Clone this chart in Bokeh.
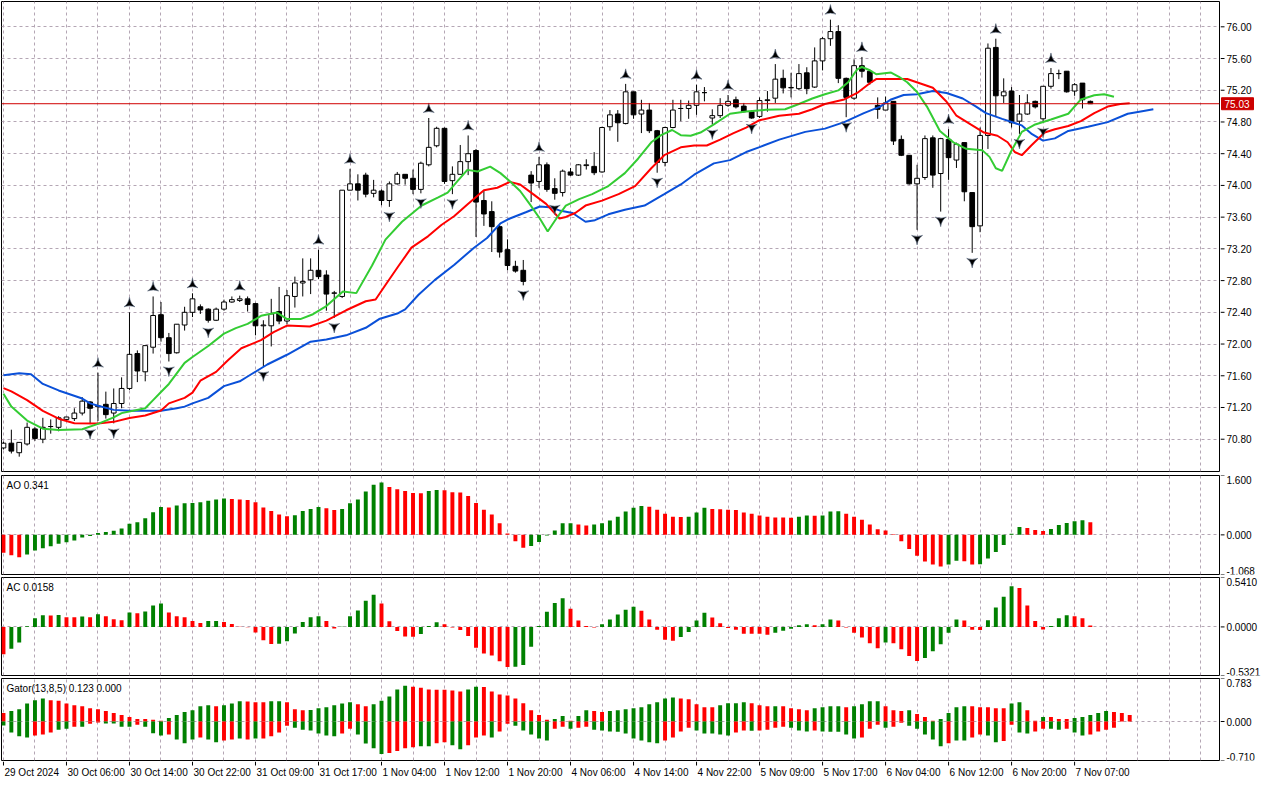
from bokeh.plotting import figure
from bokeh.layouts import column, row
from bokeh.models import Range1d, FixedTicker, Span, Label
from bokeh.core.properties import value
from bokeh.embed import file_html
from bokeh.resources import INLINE

FONT = "Liberation Sans"

# ---------------- data (hourly bars, index 0..138) ----------------
open_ = [70.69,70.75,70.63,70.74,70.93,70.80,70.96,70.95,71.05,71.06,
         71.13,71.27,71.21,71.24,71.13,71.25,71.44,71.88,71.65,71.96,
         72.37,72.08,71.89,72.24,72.40,72.47,72.44,72.30,72.44,72.53,
         72.55,72.57,72.51,72.23,72.23,72.41,72.29,72.60,72.77,72.81,
         72.93,72.87,72.64,72.60,73.94,74.02,74.13,73.90,73.93,73.81,
         74.02,74.14,74.09,73.95,74.26,74.50,74.72,74.06,74.14,74.30,
         74.44,73.81,73.67,73.48,73.19,72.98,72.93,74.13,74.05,74.26,
         73.96,73.91,74.17,74.13,74.25,74.24,74.17,74.74,74.90,74.78,
         75.18,74.90,74.95,74.69,74.29,74.73,74.97,74.97,75.01,75.17,
         74.85,74.88,75.01,75.08,75.00,74.93,74.87,75.07,75.10,75.35,
         75.23,75.22,75.42,75.24,75.57,75.85,75.94,75.35,75.10,75.51,
         75.44,75.01,74.95,75.06,74.58,74.38,74.02,74.10,74.60,74.15,
         74.58,74.32,74.54,73.91,73.49,74.63,75.74,75.13,75.19,74.81,
         74.90,75.06,74.84,75.25,75.41,75.44,75.19,75.29,75.06]
high = [70.77,70.92,70.76,71.01,70.95,71.07,71.05,71.09,71.08,71.19,
        71.33,71.28,71.64,71.40,71.44,71.58,72.40,71.92,71.98,72.60,
        72.53,72.14,72.25,72.47,72.64,72.50,72.45,72.46,72.56,72.60,
        72.61,72.60,72.52,72.30,72.57,72.72,72.68,72.85,73.08,73.08,
        73.19,72.93,72.67,73.94,74.21,74.14,74.16,74.07,73.95,74.05,
        74.17,74.14,74.20,74.30,74.85,74.74,74.73,74.24,74.51,74.63,
        74.46,73.93,73.80,73.52,73.32,73.05,73.06,74.18,74.36,74.29,
        74.09,74.20,74.22,74.27,74.33,74.42,74.74,74.95,74.95,75.28,
        75.18,75.08,75.04,74.70,74.74,75.08,75.08,75.07,75.27,75.24,
        74.96,75.10,75.14,75.12,75.04,74.95,75.11,75.19,75.53,75.46,
        75.42,75.53,75.49,75.74,75.87,76.09,76.02,75.36,75.59,75.62,
        75.46,75.11,75.12,75.06,74.63,74.38,74.26,74.63,74.63,74.60,
        74.71,74.54,74.54,73.91,74.73,75.79,75.85,75.35,75.24,75.14,
        75.15,75.07,75.25,75.48,75.46,75.44,75.29,75.29,75.07]
low = [70.67,70.62,70.58,70.72,70.78,70.75,70.87,70.90,71.04,71.03,
       71.10,70.99,71.03,71.06,71.00,71.19,71.42,71.52,71.53,71.88,
       72.03,71.78,71.88,72.17,72.34,72.38,72.27,72.29,72.42,72.52,
       72.53,72.41,72.11,71.72,71.97,72.25,72.25,72.46,72.60,72.63,
       72.82,72.42,72.33,72.58,73.94,73.81,73.85,73.85,73.75,73.73,
       74.01,74.01,73.89,73.90,74.24,74.48,74.02,73.89,74.14,74.13,
       73.35,73.49,73.16,73.09,72.93,72.90,72.74,73.79,73.97,73.92,
       73.82,73.86,74.12,74.12,74.20,74.13,74.16,74.69,74.55,74.77,
       74.84,74.66,74.66,74.16,74.24,74.72,74.81,74.84,74.89,75.06,
       74.77,74.85,74.99,74.97,74.92,74.84,74.85,74.93,75.04,75.16,
       75.11,75.20,75.15,75.23,75.45,75.76,75.29,74.86,75.08,75.36,
       75.27,74.84,74.95,74.51,74.37,74.01,73.44,74.07,73.97,73.67,
       74.07,74.22,73.80,73.15,73.41,74.46,74.87,75.04,74.73,74.65,
       74.89,74.97,74.79,75.22,75.34,75.17,75.13,74.97,75.03]
close = [70.75,70.65,70.76,70.95,70.81,70.95,70.96,71.07,71.08,71.13,
         71.28,71.19,71.22,71.11,71.25,71.44,71.87,71.66,71.98,72.36,
         72.08,71.88,72.25,72.40,72.57,72.43,72.30,72.44,72.53,72.56,
         72.57,72.50,72.23,72.24,72.38,72.29,72.61,72.77,72.79,72.93,
         72.85,72.63,72.645,73.94,74.02,73.94,73.89,73.94,73.81,74.02,
         74.14,74.09,73.95,74.28,74.48,74.72,74.05,74.14,74.30,74.40,
         73.79,73.64,73.48,73.16,72.99,72.92,72.79,74.03,74.26,73.95,
         73.90,74.18,74.13,74.26,74.26,74.16,74.73,74.89,74.79,75.18,
         74.89,74.95,74.69,74.29,74.73,74.95,74.97,75.01,75.18,75.17,
         74.88,75.01,75.06,74.99,74.93,74.85,75.07,75.08,75.34,75.23,
         75.235,75.41,75.22,75.57,75.85,75.94,75.35,75.11,75.51,75.44,
         75.30,74.96,75.04,74.56,74.38,74.02,74.09,74.59,74.13,74.59,
         74.35,74.52,73.92,73.48,74.63,75.73,75.13,75.18,74.79,74.90,
         75.04,74.99,75.25,75.41,75.41,75.18,75.27,75.08,75.03]
last_price = 75.03

# Alligator lines (bar index, price) - already shifted forward
jaw_x = [0,2,3.5,5,7,10,11,12,14,16,20,22,23,24,26,28,30,31,33.5,36,39,41,43.5,46,47.7,50,51,52.7,
         54.75,57.25,59.75,61.4,63.1,64.3,66.4,68.1,69.3,70.6,72.25,73.9,75.1,76.8,78.9,81.4,83.9,86,
         87.7,90.2,92.25,94.3,96,98.5,101.8,104.3,106.75,109.25,111.3,112.7,114.3,116,118,119.75,121.8,
         123.5,124.75,126.8,129.3,130.6,132,133.5,135.2,137.7,140.2,142.75,144.4,146]
jaw_y = [71.608,71.632,71.62,71.497,71.415,71.313,71.252,71.223,71.17,71.158,71.158,71.19,71.211,71.252,
         71.321,71.469,71.53,71.591,71.742,71.865,72.029,72.057,72.11,72.205,72.315,72.385,72.438,72.622,
         72.806,73.0,73.215,73.337,73.522,73.583,73.665,73.734,73.726,73.685,73.652,73.542,73.562,73.636,
         73.693,73.746,73.89,74.012,74.135,74.278,74.319,74.421,74.483,74.577,74.675,74.716,74.798,74.912,
         74.994,75.084,75.14,75.149,75.19,75.166,75.096,74.994,74.912,74.839,74.757,74.646,74.565,74.593,
         74.687,74.74,74.798,74.904,74.933,74.961]
teeth_x = [0,1,3,5,7,9,12,14,16,18,20,21,23,24,25,27,28.5,30.2,32.7,34.3,36,38.9,41,43.5,46,47.25,48.5,
           50.2,51.8,53.9,55.6,57.25,58.9,61,62.7,64.3,65.6,67.25,68.9,70.6,71.4,72.6,73.9,76,78.1,80.2,
           82.25,83.9,86,87.7,89.3,91,92.7,94.3,96,98.5,101,102.7,104.3,106.75,108.4,110,110.8,112.7,
           114.75,116.8,118,119.75,121,122.8,124.5,126.2,127.5,128.4,129.3,130.5,132.2,133.5,135.2,
           136.8,138.5,140.2,141.8,143]
teeth_y = [71.444,71.403,71.293,71.158,71.059,71.002,70.998,71.019,71.068,71.10,71.162,71.252,71.321,
           71.387,71.538,71.649,71.796,71.947,72.049,72.151,72.233,72.221,72.295,72.426,72.54,72.561,
           72.745,72.99,73.215,73.358,73.501,73.614,73.759,73.939,73.971,74.045,74.012,73.89,73.767,
           73.583,73.603,73.652,73.746,73.808,73.89,73.992,74.217,74.381,74.48,74.503,74.503,74.577,
           74.659,74.728,74.822,74.879,74.904,74.961,75.027,75.084,75.166,75.288,75.341,75.341,75.341,
           75.272,75.231,75.055,74.879,74.769,74.667,74.626,74.544,74.421,74.381,74.503,74.667,74.708,
           74.749,74.81,74.912,74.994,75.027,75.035]
lips_x = [0,1,3,5,7,10,12,14,15,18,19,20,21,23,24,26,28,29.5,31,32.7,34.75,36,37.7,39.3,41,43.1,44.8,
          46.8,48.5,50.6,53.1,55.2,56.4,57.7,58.9,60.2,61.8,63.1,64.3,65.6,66.8,68.1,69.1,70.2,71.4,
          73.1,74.75,76.8,78.9,80.6,82.25,83.5,84.9,86,87.25,88.5,90.2,92.25,94.3,96.8,99.25,101,102.7,
          104.3,106,107.25,108.4,109,110,110.8,112.7,113.7,114.75,116,117.25,118.9,120.6,122.25,124.3,
          125.2,126,126.8,127.9,129.3,131,133,135.2,136.8,138.5,139.75,141]
lips_y = [71.374,71.211,71.035,70.933,70.916,70.925,70.994,71.076,71.129,71.19,71.293,71.395,71.497,
          71.763,71.837,71.976,72.131,72.2,72.254,72.356,72.397,72.315,72.315,72.376,72.479,72.663,
          72.642,72.99,73.317,73.542,73.747,73.849,73.91,74.06,74.196,74.176,74.237,74.155,74.053,
          73.93,73.767,73.583,73.419,73.583,73.746,73.828,73.89,73.992,74.155,74.34,74.544,74.634,
          74.699,74.634,74.626,74.667,74.769,74.904,74.933,74.953,74.961,75.027,75.096,75.149,75.198,
          75.301,75.464,75.493,75.452,75.403,75.423,75.37,75.301,75.178,74.994,74.687,74.544,74.462,
          74.442,74.36,74.217,74.184,74.421,74.675,74.769,74.831,74.904,75.084,75.137,75.149,75.117]

fractal_up = [12,16,19,24,30,40,44,54,59,68,79,88,92,98,105,109,120,126,133]
fractal_down = [11,14,21,26,33,42,49,53,57,66,70,83,90,95,107,116,119,123,129,132]

ao = [-0.48,-0.55,-0.60,-0.53,-0.42,-0.36,-0.31,-0.24,-0.20,-0.15,
      -0.07,-0.03,0.05,0.08,0.11,0.17,0.30,0.34,0.45,0.61,
      0.75,0.74,0.79,0.85,0.86,0.88,0.92,0.95,0.98,0.97,
      0.95,0.94,0.88,0.74,0.64,0.55,0.50,0.53,0.64,0.70,
      0.75,0.72,0.67,0.70,0.85,0.95,1.17,1.35,1.41,1.29,
      1.23,1.18,1.13,1.12,1.18,1.21,1.20,1.15,1.14,1.05,
      0.86,0.68,0.55,0.31,0.04,-0.17,-0.35,-0.30,-0.19,-0.02,
      0.12,0.31,0.315,0.28,0.25,0.28,0.31,0.39,0.49,0.63,
      0.73,0.78,0.76,0.68,0.57,0.49,0.48,0.49,0.60,0.73,
      0.70,0.69,0.68,0.67,0.60,0.57,0.52,0.49,0.47,0.465,
      0.46,0.49,0.52,0.515,0.52,0.63,0.635,0.57,0.49,0.41,
      0.28,0.15,0.12,0.02,-0.17,-0.38,-0.56,-0.72,-0.80,-0.85,
      -0.80,-0.70,-0.71,-0.80,-0.79,-0.64,-0.46,-0.27,0.03,0.21,
      0.185,0.13,0.106,0.16,0.264,0.317,0.37,0.396,0.341]
ao_col = ("rrrggggggg" "gggggggggg" "grgggggggr" "rrrrrrrggg" "grrggggggr"
          "rrrrggrrrr" "rrrrrrrggg" "gggrrggggg" "ggrrrrrggg" "rrrrrrrrrr"
          "rggrgggrrr" "rrrrrrrrrr" "ggrrgggggg" "rrrgggggr")

ac = [-0.30,-0.24,-0.17,0.008,0.096,0.128,0.125,0.13,0.106,0.105,
      0.113,0.106,0.138,0.117,0.085,0.074,0.159,0.149,0.170,0.234,
      0.255,0.159,0.117,0.106,0.064,0.043,0.064,0.065,0.053,0.032,
      0.003,-0.003,-0.06,-0.145,-0.188,-0.185,-0.156,-0.071,0.053,0.106,
      0.117,0.064,-0.018,0.003,0.117,0.181,0.287,0.351,0.255,0.062,
      -0.046,-0.106,-0.107,-0.078,0.011,0.050,0.028,-0.007,-0.035,-0.099,
      -0.227,-0.29,-0.312,-0.375,-0.439,-0.437,-0.418,-0.216,0.011,0.166,
      0.262,0.315,0.198,0.071,0.011,-0.007,0.028,0.081,0.135,0.188,
      0.22,0.177,0.081,-0.032,-0.142,-0.152,-0.11,-0.057,0.071,0.156,
      0.103,0.039,-0.011,-0.032,-0.074,-0.075,-0.076,-0.085,-0.064,-0.042,
      -0.021,0.018,0.028,0.018,0.028,0.081,0.071,-0.007,-0.064,-0.117,
      -0.18,-0.234,-0.17,-0.18,-0.244,-0.319,-0.372,-0.34,-0.266,-0.191,
      -0.064,0.081,0.071,-0.032,-0.035,0.074,0.213,0.33,0.446,0.425,
      0.234,0.064,-0.028,0.011,0.096,0.128,0.117,0.096,0.016]
ac_col = ("rgggggrgrr" "grgrrrgrgg" "grrrrrggrr" "rrrrrggggg" "grrgggggrr"
          "rrrgggrrrr" "rrrrrggggg" "ggrrrrgggg" "grrrrrgggg" "rrrrrrrrgg"
          "gggrggrrrr" "rrgrrrrggg" "ggrrrggggr" "rrrgggrrr")

gator_up = [0.154,0.19,0.225,0.33,0.385,0.42,0.385,0.38,0.33,0.296,
            0.28,0.243,0.225,0.19,0.154,0.118,0.083,0.047,0.045,0.030,
            0.012,0.065,0.118,0.172,0.207,0.28,0.296,0.28,0.296,0.33,
            0.367,0.365,0.35,0.349,0.367,0.368,0.35,0.225,0.207,0.21,
            0.243,0.26,0.296,0.33,0.35,0.314,0.28,0.314,0.38,0.456,
            0.581,0.652,0.634,0.616,0.581,0.580,0.578,0.563,0.545,0.581,
            0.634,0.630,0.545,0.492,0.474,0.421,0.332,0.207,0.118,0.030,
            0.047,0.10,0.012,0.10,0.207,0.19,0.172,0.19,0.207,0.225,
            0.243,0.26,0.314,0.35,0.421,0.438,0.421,0.403,0.314,0.26,
            0.258,0.296,0.332,0.333,0.35,0.332,0.296,0.278,0.279,0.277,
            0.243,0.225,0.207,0.243,0.26,0.278,0.279,0.26,0.278,0.314,
            0.367,0.368,0.278,0.207,0.19,0.207,0.136,0.083,0.012,0.047,
            0.154,0.26,0.278,0.277,0.26,0.259,0.243,0.242,0.33,0.35,
            0.207,0.012,0.083,0.082,0.047,0.046,0.065,0.083,0.118,0.154,
            0.19,0.172,0.154,0.118]
gator_up_col = ("rgggggrrrr" "rrrrrrrrrr" "rggggggrgg" "grrrggrrrg" "gggggrrggg"
                "ggrrrrrrrg" "grrrrrrrrr" "ggrggrrggg" "ggggggrrrr" "rggggrrrgr"
                "rrrggggrgg" "ggrrrgrrrg" "gggrrrrrgg" "rrgrrrgggg" "grrr")
gator_dn = [-0.071,-0.20,-0.27,-0.29,-0.255,-0.237,-0.20,-0.148,-0.13,-0.095,
            -0.095,-0.041,-0.018,-0.036,-0.036,-0.095,-0.095,-0.059,-0.095,-0.213,
            -0.255,-0.237,-0.326,-0.397,-0.326,-0.29,-0.326,-0.379,-0.344,-0.326,
            -0.308,-0.326,-0.308,-0.308,-0.27,-0.20,-0.077,-0.113,-0.148,-0.166,
            -0.22,-0.255,-0.27,-0.22,-0.13,-0.237,-0.40,-0.486,-0.59,-0.575,
            -0.539,-0.486,-0.468,-0.45,-0.45,-0.397,-0.379,-0.433,-0.504,-0.433,
            -0.29,-0.255,-0.29,-0.184,-0.041,-0.077,-0.166,-0.237,-0.308,-0.344,
            -0.13,-0.095,-0.13,-0.113,-0.095,-0.148,-0.166,-0.184,-0.185,-0.219,
            -0.308,-0.344,-0.379,-0.397,-0.344,-0.29,-0.184,-0.113,-0.166,-0.219,
            -0.22,-0.237,-0.255,-0.201,-0.166,-0.167,-0.166,-0.148,-0.113,-0.095,
            -0.113,-0.166,-0.184,-0.166,-0.184,-0.185,-0.186,-0.237,-0.308,-0.29,
            -0.13,-0.059,-0.113,-0.095,-0.024,-0.077,-0.13,-0.237,-0.326,-0.45,
            -0.397,-0.344,-0.345,-0.29,-0.237,-0.255,-0.379,-0.355,-0.059,-0.20,
            -0.22,-0.184,-0.13,-0.13,-0.148,-0.13,-0.20,-0.255,-0.237,-0.184,
            -0.148,-0.113]
gator_dn_col = ("ggggrrrggr" "grrggggrgg" "grgggrggrr" "grgrrrrggg" "gggrrggggr"
                "rrrggrrggr" "rrgrrggggg" "rrgrrggggg" "ggggrrrrgg" "gggrrgrrrr"
                "gggrgggggr" "rrgrrggggg" "rggrrggrrg" "grrggrggrr" "rr")

time_pos = [0,8,16,24,32,40,48,56,64,72,80,88,96,104,112,120,128,136]
time_lab = ["29 Oct 2024","30 Oct 06:00","30 Oct 14:00","30 Oct 22:00","31 Oct 09:00",
            "31 Oct 17:00","1 Nov 04:00","1 Nov 12:00","1 Nov 20:00","4 Nov 06:00",
            "4 Nov 14:00","4 Nov 22:00","5 Nov 09:00","5 Nov 17:00","6 Nov 04:00",
            "6 Nov 12:00","6 Nov 20:00","7 Nov 07:00"]
price_ticks = [70.8,71.2,71.6,72.0,72.4,72.8,73.2,73.6,74.0,74.4,74.8,75.2,75.6,76.0]
price_labels = ["%.2f" % t for t in price_ticks]

# ---------------- styling ----------------
COL = {"g": "#008000", "r": "#ff0000"}
GRID = "#b4a6b4"
FW = 1218          # plot frame width
SW = 43            # price-scale column width
X0, X1 = -0.25, 154.4
xr = Range1d(X0, X1)
grid_ticks = list(range(0, 156, 4))
TXT = dict(text_font=value(FONT), text_font_size="10px", text_color="black")


def mkfig(fh, yr, top=2, bottom=1):
    p = figure(frame_width=FW, frame_height=fh, x_range=xr, y_range=yr,
               toolbar_location=None, output_backend="svg",
               min_border_left=1, min_border_right=1, min_border_top=top,
               min_border_bottom=bottom, background_fill_color="white",
               border_fill_color="white")
    p.outline_line_color = "black"
    p.outline_line_width = 1
    p.xaxis.visible = False
    p.yaxis.visible = False
    p.xgrid.ticker = FixedTicker(ticks=grid_ticks)
    for g in (p.xgrid, p.ygrid):
        g.grid_line_color = GRID
        g.grid_line_dash = "3 3"
        g.grid_line_width = 1
    return p


def mkscale(fh, yr, ticks, labels, baselines, top=2, bottom=1):
    s = figure(frame_width=SW, frame_height=fh, x_range=Range1d(0, SW), y_range=yr,
               toolbar_location=None, output_backend="svg", x_axis_type=None, y_axis_type=None,
               min_border_left=0, min_border_right=0, min_border_top=top,
               min_border_bottom=bottom, background_fill_color="white",
               border_fill_color="white")
    s.outline_line_color = None
    s.segment(x0=[0] * len(ticks), y0=ticks, x1=[4] * len(ticks), y1=ticks,
              line_color="black", line_width=1)
    s.text(x=[6] * len(ticks), y=ticks, text=labels, text_baseline=baselines,
           text_align="left", **TXT)
    return s


def panel_label(p, text, y):
    p.add_layout(Label(x=X0, y=y, x_offset=5, y_offset=-4, text=text, text_baseline="top",
                       text_font=FONT, text_font_size="10px", text_color="black"))


# ---------------- main price panel ----------------
PR = Range1d(70.393, 76.319)
p1 = mkfig(470, PR, top=1, bottom=2)
p1.ygrid.ticker = FixedTicker(ticks=price_ticks)

idx = list(range(len(close)))
p1.segment(x0=idx, y0=high, x1=idx, y1=low, line_color="black", line_width=1)
tops = [max(o, c) for o, c in zip(open_, close)]
bots = [min(o, c) for o, c in zip(open_, close)]
fills = ["white" if c >= o else "black" for o, c in zip(open_, close)]
p1.vbar(x=idx, width=0.6, top=tops, bottom=bots, fill_color=fills, line_color="black", line_width=1)

p1.line(jaw_x, jaw_y, line_color="#0a50d8", line_width=2)
p1.line(teeth_x, teeth_y, line_color="#ff0000", line_width=2)
p1.line(lips_x, lips_y, line_color="#33cc33", line_width=2)

p1.add_layout(Span(location=last_price, dimension="width", line_color="#d00000", line_width=1))

off = 0.11
p1.scatter(x=fractal_up, y=[high[i] + off for i in fractal_up], marker="triangle_pin",
           size=11, fill_color="black", line_color="#5a6a80", line_width=0.6)
p1.scatter(x=fractal_down, y=[low[i] - off for i in fractal_down], marker="triangle_pin",
           angle=3.14159, size=11, fill_color="black", line_color="#5a6a80", line_width=0.6)

s1 = mkscale(470, PR, price_ticks, price_labels, "middle", top=1, bottom=2)
box_h = 12 * (PR.end - PR.start) / 470.0
s1.quad(left=[1], right=[33], bottom=[last_price - box_h / 2], top=[last_price + box_h / 2],
        fill_color="#cc0000", line_color="#cc0000")
s1.text(x=[4], y=[last_price], text=["%.2f" % last_price], text_baseline="middle",
        text_align="left", text_font=value(FONT), text_font_size="10px", text_color="white")

# ---------------- AO ----------------
AO_LO, AO_HI = -1.068, 1.600
AOR = Range1d(AO_LO, AO_HI)
p2 = mkfig(99, AOR)
p2.ygrid.ticker = FixedTicker(ticks=[0.0])
p2.vbar(x=list(range(len(ao))), width=0.5, top=ao, bottom=0,
        fill_color=[COL[c] for c in ao_col], line_color=None)
panel_label(p2, "AO 0.341", AO_HI)
s2 = mkscale(99, AOR, [AO_HI, 0.0, AO_LO], ["1.600", "0.000", "-1.068"],
             ["top", "middle", "bottom"])

# ---------------- AC ----------------
AC_LO, AC_HI = -0.5321, 0.5410
ACR = Range1d(AC_LO, AC_HI)
p3 = mkfig(98, ACR)
p3.ygrid.ticker = FixedTicker(ticks=[0.0])
p3.vbar(x=list(range(len(ac))), width=0.5, top=ac, bottom=0,
        fill_color=[COL[c] for c in ac_col], line_color=None)
panel_label(p3, "AC 0.0158", AC_HI)
s3 = mkscale(98, ACR, [AC_HI, 0.0, AC_LO], ["0.5410", "0.0000", "-0.5321"],
             ["top", "middle", "bottom"])

# ---------------- Gator ----------------
GT_LO, GT_HI = -0.710, 0.783
GTR = Range1d(GT_LO, GT_HI)
p4 = mkfig(82, GTR)
p4.ygrid.ticker = FixedTicker(ticks=[0.0])
p4.vbar(x=list(range(len(gator_up))), width=0.5, top=gator_up, bottom=0,
        fill_color=[COL[c] for c in gator_up_col], line_color=None)
p4.vbar(x=list(range(len(gator_dn))), width=0.5, top=0, bottom=gator_dn,
        fill_color=[COL[c] for c in gator_dn_col], line_color=None)
panel_label(p4, "Gator(13,8,5) 0.123 0.000", GT_HI)
s4 = mkscale(82, GTR, [GT_HI, 0.0, GT_LO], ["0.783", "0.000", "-0.710"],
             ["top", "middle", "bottom"])

# ---------------- time scale ----------------
pt = figure(frame_width=FW, frame_height=18, x_range=xr, y_range=Range1d(0, 18),
            toolbar_location=None, output_backend="svg", x_axis_type=None, y_axis_type=None,
            min_border_left=1, min_border_right=1, min_border_top=0, min_border_bottom=0,
            background_fill_color="white", border_fill_color="white")
pt.outline_line_color = None
pt.segment(x0=time_pos, y0=[18] * len(time_pos), x1=time_pos, y1=[14] * len(time_pos),
           line_color="black", line_width=1)
pt.text(x=time_pos, y=[14] * len(time_pos), text=time_lab, text_baseline="top",
        text_align="left", x_offset=1, y_offset=1, **TXT)

layout = column(row(p1, s1, spacing=0), row(p2, s2, spacing=0), row(p3, s3, spacing=0),
                row(p4, s4, spacing=0), pt, spacing=0)
open("out.html", "w").write(file_html(layout, INLINE))
